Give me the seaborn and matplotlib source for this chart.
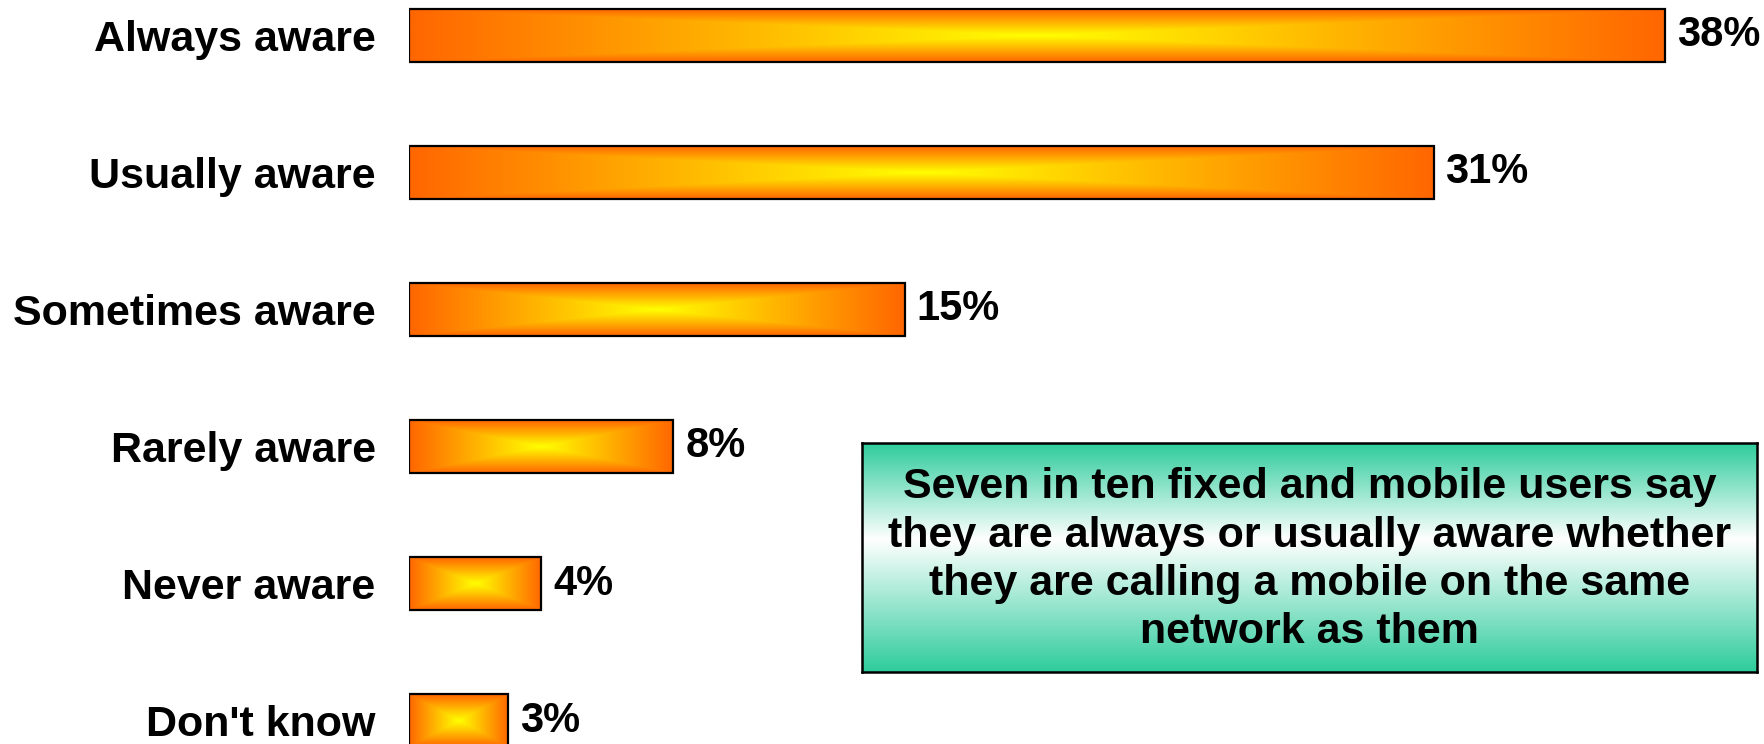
import numpy as np
import pandas as pd
import matplotlib
matplotlib.use("Agg")
import matplotlib.pyplot as plt
import seaborn as sns

# Survey responses: awareness of calling a mobile on the same network
categories = ["Always aware", "Usually aware", "Sometimes aware",
              "Rarely aware", "Never aware", "Don't know"]
shares = [38, 31, 15, 8, 4, 3]
value_labels = ["38%", "31%", "15%", "8%", "4%", "3%"]

callout = ("Seven in ten fixed and mobile users say\n"
           "they are always or usually aware whether\n"
           "they are calling a mobile on the same\n"
           "network as them")

sns.set_style("white")
plt.rcParams["font.family"] = ["Liberation Sans", "DejaVu Sans"]
plt.rcParams["font.weight"] = "bold"
plt.rcParams["text.color"] = "black"
plt.rcParams["ytick.color"] = "black"
plt.rcParams["ytick.labelcolor"] = "black"

W, H = 1764, 744
fig = plt.figure(figsize=(W / 100, H / 100), dpi=100)

left_px = 409
px_per_unit = 33.05
ax = fig.add_axes([left_px / W, 0, (W - left_px) / W, 1])

df = pd.DataFrame({"category": categories, "share": shares})
sns.barplot(data=df, x="share", y="category", orient="h", ax=ax,
            width=0.385, color="#FF6600", edgecolor="black", linewidth=1.6)

ax.set_xlim(0, (W - left_px) / px_per_unit)
ax.set_ylim(5.171, -0.2576)
ax.set_xlabel("")
ax.set_ylabel("")
ax.set_xticks([])
for s in ax.spines.values():
    s.set_visible(False)
ax.tick_params(axis="y", length=0, pad=24, labelsize=31, labelcolor="black")
for lab in ax.get_yticklabels():
    lab.set_fontweight("bold")
    lab.set_color("black")

orange = np.array([255, 102, 0]) / 255.0
yellow = np.array([255, 255, 0]) / 255.0


def box_gradient(nx=400, ny=120):
    u = np.abs(np.linspace(-1, 1, nx))[None, :]
    v = np.abs(np.linspace(-1, 1, ny))[:, None]
    t = np.maximum(u, v)
    return yellow[None, None, :] * (1 - t[..., None]) + orange[None, None, :] * t[..., None]


# Rectangular centre-out gradient inside each bar
for patch, lbl in zip(ax.patches, value_labels):
    x0, y0 = patch.get_x(), patch.get_y()
    w, h = patch.get_width(), patch.get_height()
    patch.set_facecolor("none")
    patch.set_zorder(3)
    img = ax.imshow(box_gradient(), extent=[x0, x0 + w, y0 + h, y0],
                    aspect="auto", interpolation="bilinear", zorder=2)
    img.set_clip_path(patch)
    ax.annotate(lbl, xy=(x0 + w, y0 + h / 2), xytext=(8.5, 0),
                textcoords="offset points", va="center", ha="left",
                fontsize=30, fontweight="bold", color="black")

# Callout box with teal-white-teal vertical gradient
bx0, bx1, by0, by1 = 862, 1757, 443, 672
bax = fig.add_axes([bx0 / W, (H - by1) / H, (bx1 - bx0) / W, (by1 - by0) / H])
teal = np.array([46, 204, 155]) / 255.0
white = np.array([1.0, 1.0, 1.0])
pos = np.linspace(0, 1, 300)
mid = 0.42
t = np.where(pos < mid, 1 - pos / mid, (pos - mid) / (1 - mid))
grad = white[None, :] * (1 - t[:, None]) + teal[None, :] * t[:, None]
grad = np.repeat(grad[:, None, :], 4, axis=1)
bax.imshow(grad, extent=[0, 1, 0, 1], aspect="auto", interpolation="bilinear")
bax.set_xlim(0, 1)
bax.set_ylim(0, 1)
bax.set_xticks([])
bax.set_yticks([])
for s in bax.spines.values():
    s.set_visible(True)
    s.set_color("black")
    s.set_linewidth(1.8)
bax.text(0.5, 0.49, callout, ha="center", va="center", fontsize=31,
         fontweight="bold", linespacing=1.27, color="black",
         transform=bax.transAxes)

fig.savefig("out.png", dpi=100)
